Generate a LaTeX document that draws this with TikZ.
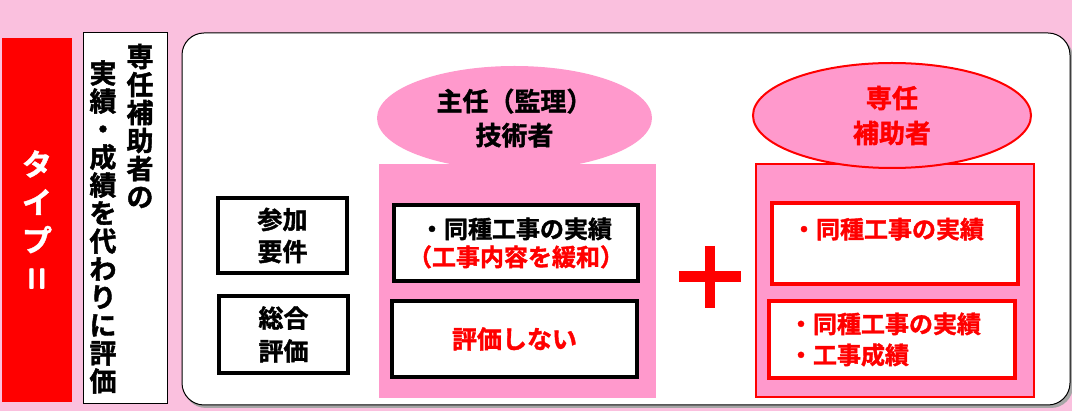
\documentclass[tikz,border=0pt]{standalone}
\usepackage{fontspec}
\usetikzlibrary{shapes.geometric}
\newfontfamily\jp{Noto Sans CJK JP Bold}[FakeBold=1.5]
\definecolor{bgpink}{RGB}{250,192,222}
\definecolor{colpink}{RGB}{255,153,204}
\definecolor{pred}{RGB}{255,0,0}
\tikzset{
  blkbox/.style={draw=black, line width=4pt, fill=white, inner sep=0pt, align=center},
  redbox/.style={draw=pred, line width=4.5pt, fill=white, inner sep=0pt},
  col/.style={fill=colpink, inner sep=0pt},
}
\begin{document}
\begin{tikzpicture}[x=1pt,y=-1pt]
\useasboundingbox (0,0) rectangle (1072,411);
\fill[bgpink] (0,0) rectangle (1072,411);
% left red box
\node (type) [fill=pred, minimum width=70, minimum height=364, inner sep=0pt, text=white, align=center,
  font=\jp\fontsize{30}{38}\selectfont] at (37,220) {タ\\イ\\プ\\{\sffamily\bfseries II}};
% white vertical box
\node (desc) [draw=black, line width=0.8pt, fill=white, minimum width=84, minimum height=371, inner sep=0pt] at (125,217.5) {};
\node (descA) [align=center, inner sep=0pt, font=\jp\fontsize{27}{28}\selectfont] at (140,126) {専\\任\\補\\助\\者\\の};
\node (descB) [align=center, inner sep=0pt, font=\jp\fontsize{27}{28}\selectfont] at (103,227) {実\\績\\・\\成\\績\\を\\代\\わ\\り\\に\\評\\価};
% main rounded box
\fill[black!35, rounded corners=22pt] (184,36) rectangle (1073,408);
\node (main) [draw=black, line width=1pt, fill=white, rounded corners=22pt, minimum width=888, minimum height=372, inner sep=0pt] at (626,219) {};
% left labels
\node (sanka) [blkbox, minimum width=129, minimum height=75, font=\jp\fontsize{25}{32}\selectfont] at (282.5,235.5) {参加\\要件};
\node (sogo) [blkbox, minimum width=129, minimum height=77, font=\jp\fontsize{25}{33}\selectfont] at (283.5,334.5) {総合\\評価};
% chief engineer column
\node (colA) [col, minimum width=277, minimum height=234] at (517.5,281) {};
\node (ellA) [ellipse, fill=colpink, minimum width=275, minimum height=104, inner sep=0pt, align=center,
  font=\jp\fontsize{26}{34}\selectfont] at (514.5,118) {主任（監理）\\技術者};
\node (a1) [blkbox, minimum width=244, minimum height=76, font=\jp\fontsize{24}{28}\selectfont] at (516,243) {・同種工事の実績\\\textcolor{pred}{（工事内容を緩和）}};
\node (a2) [blkbox, minimum width=245, minimum height=76, text=pred, font=\jp\fontsize{25}{28}\selectfont] at (514.5,339) {評価しない};
% plus sign
\node (plus) [inner sep=0pt, minimum size=62] at (710,277) {};
\draw[pred, line width=11pt] (plus.west) -- (plus.east);
\draw[pred, line width=10pt] (plus.north) -- (plus.south);
% assistant column
\node (colB) [col, draw=pred, line width=2pt, minimum width=278, minimum height=233] at (895,280.5) {};
\node (ellB) [ellipse, draw=pred, line width=2pt, fill=colpink, minimum width=278, minimum height=105, inner sep=0pt, align=center,
  text=pred, font=\jp\fontsize{26}{35}\selectfont] at (892,115.5) {専任\\補助者};
\node (b1) [redbox, text=pred, align=left, text width=206, inner xsep=20pt, minimum height=81, font=\jp\fontsize{24}{31}\selectfont] at (895,243.5) {・同種工事の実績\\\mbox{}};
\node (b2) [redbox, text=pred, align=left, text width=206, inner xsep=20pt, minimum height=77, font=\jp\fontsize{24}{31}\selectfont] at (892,339.5) {・同種工事の実績\\・工事成績};
\end{tikzpicture}
\end{document}
